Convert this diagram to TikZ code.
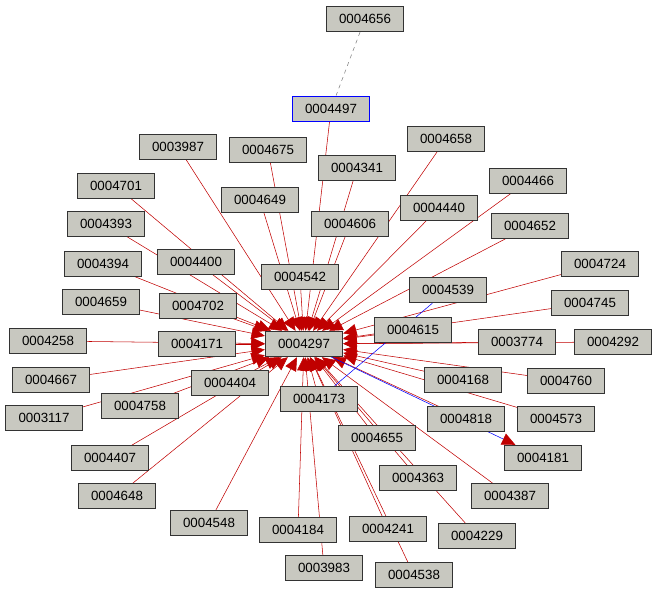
\documentclass[tikz,border=0pt]{standalone}
\usepackage{fontspec}
\setmainfont{Liberation Sans}
\usetikzlibrary{arrows.meta}
\pgfdeclarelayer{bg}
\pgfsetlayers{bg,main}
\definecolor{boxgray}{RGB}{200,200,192}
\definecolor{edgered}{RGB}{192,0,0}
\tikzset{
  item/.style={draw=black!80, thick, fill=boxgray, minimum width=58pt, minimum height=19pt, inner sep=1pt, font=\fontsize{10}{12}\selectfont},
  link/.style={edgered, -{Triangle[length=10pt,width=9pt]}},
}
\begin{document}
\begin{tikzpicture}[x=0.75pt, y=-0.75pt]
    \useasboundingbox (0,0) rectangle (659,595);

    \node[item] (n4656) at (365,19) {0004656};
    \node[item, draw=blue, very thick] (n4497) at (331,109) {0004497};
    \node[item] (n3987) at (178,147) {0003987};
    \node[item] (n4675) at (268,150) {0004675};
    \node[item] (n4341) at (357,168) {0004341};
    \node[item] (n4658) at (446,139) {0004658};
    \node[item] (n4701) at (116,186) {0004701};
    \node[item] (n4649) at (260,200) {0004649};
    \node[item] (n4606) at (350,224) {0004606};
    \node[item] (n4440) at (439,208) {0004440};
    \node[item] (n4466) at (528,181) {0004466};
    \node[item] (n4393) at (106,224) {0004393};
    \node[item] (n4652) at (530,226) {0004652};
    \node[item] (n4394) at (103,264) {0004394};
    \node[item] (n4400) at (196,262) {0004400};
    \node[item] (n4542) at (300,277) {0004542};
    \node[item] (n4724) at (600,264) {0004724};
    \node[item] (n4539) at (448,290) {0004539};
    \node[item] (n4659) at (101,302) {0004659};
    \node[item] (n4702) at (198,306) {0004702};
    \node[item] (n4745) at (590,303) {0004745};
    \node[item] (n4615) at (413,330) {0004615};
    \node[item] (n4258) at (48,341) {0004258};
    \node[item] (n4171) at (197,344) {0004171};
    \node[item] (n4297) at (304,344) {0004297};
    \node[item] (n3774) at (517,342) {0003774};
    \node[item] (n4292) at (613,342) {0004292};
    \node[item] (n4667) at (51,380) {0004667};
    \node[item] (n4404) at (230,383) {0004404};
    \node[item] (n4168) at (463,380) {0004168};
    \node[item] (n4760) at (566,381) {0004760};
    \node[item] (n3117) at (44,418) {0003117};
    \node[item] (n4758) at (140,406) {0004758};
    \node[item] (n4173) at (319,399) {0004173};
    \node[item] (n4818) at (466,419) {0004818};
    \node[item] (n4573) at (556,419) {0004573};
    \node[item] (n4655) at (377,438) {0004655};
    \node[item] (n4407) at (110,458) {0004407};
    \node[item] (n4181) at (543,458) {0004181};
    \node[item] (n4363) at (418,478) {0004363};
    \node[item] (n4648) at (117,496) {0004648};
    \node[item] (n4387) at (510,496) {0004387};
    \node[item] (n4548) at (209,523) {0004548};
    \node[item] (n4184) at (298,530) {0004184};
    \node[item] (n4241) at (388,529) {0004241};
    \node[item] (n4229) at (477,536) {0004229};
    \node[item] (n3983) at (324,568) {0003983};
    \node[item] (n4538) at (414,575) {0004538};

    \begin{pgfonlayer}{bg}
        \draw[gray, dashed] (n4656) -- (n4497);
        \foreach \src in {4497,3987,4675,4341,4658,4701,4649,4606,4440,4466,4393,4652,
                          4394,4400,4542,4724,4659,4702,4745,4615,4258,4171,3774,4292,
                          4667,4404,4168,4760,3117,4758,4173,4818,4573,4655,4407,4363,
                          4648,4387,4548,4184,4241,4229,3983,4538}
            \draw[link] (n\src.center) -- (n4297);
        \draw[blue] (n4539) -- (n4173);
        \draw[blue, -{Triangle[length=10pt,width=9pt]}, arrows={[edgered]}] (n4297.center) -- (n4181);
    \end{pgfonlayer}
\end{tikzpicture}
\end{document}
